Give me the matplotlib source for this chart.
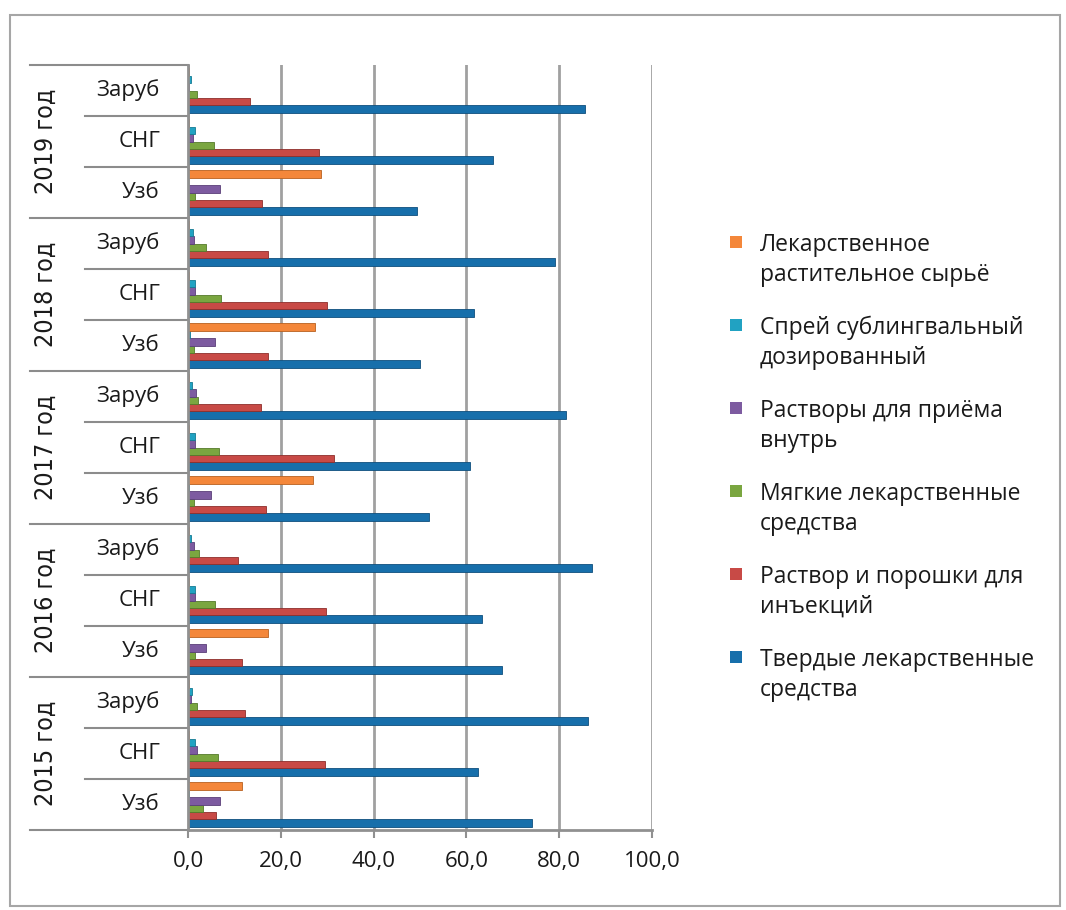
import numpy as np
import matplotlib.pyplot as plt
from matplotlib.patches import Rectangle
from matplotlib.lines import Line2D
import matplotlib.transforms as mtransforms

# categories, bottom to top
years = ['2015 год', '2016 год', '2017 год', '2018 год', '2019 год']
subs = ['Узб', 'СНГ', 'Заруб']

# series (same order as categories)
tverdye = [74.1, 62.5, 86.2, 67.7, 63.4, 87.1, 51.9, 60.8, 81.5, 50.1, 61.6, 79.0, 49.4, 65.7, 85.5]
rastvor_inj = [6.1, 29.6, 12.2, 11.7, 29.7, 10.8, 16.9, 31.5, 15.8, 17.2, 30.0, 17.2, 16.0, 28.3, 13.3]
myagkie = [3.2, 6.5, 2.0, 1.5, 5.9, 2.4, 1.4, 6.6, 2.2, 1.4, 7.2, 3.9, 1.5, 5.6, 2.0]
rastvory = [7.0, 2.0, 0.7, 3.9, 1.6, 1.2, 5.0, 1.6, 1.8, 5.9, 1.6, 1.4, 6.9, 1.0, 0.2]
sprey = [0.3, 1.6, 0.9, 0.3, 1.6, 0.7, 0.3, 1.6, 0.9, 0.35, 1.6, 1.1, 0.1, 1.6, 0.7]
lrs = [11.7, 0.3, 0.3, 17.2, 0.3, 0.3, 27.0, 0.3, 0.3, 27.4, 0.3, 0.3, 28.6, 0.3, 0.3]

series = [tverdye, rastvor_inj, myagkie, rastvory, sprey, lrs]
names = ['Твердые лекарственные\nсредства',
         'Раствор и порошки для\nинъекций',
         'Мягкие лекарственные\nсредства',
         'Растворы для приёма\nвнутрь',
         'Спрей сублингвальный\nдозированный',
         'Лекарственное\nрастительное сырьё']
colors = ['#176fab', '#c84a46', '#7aa640', '#7d5ba0', '#21a2c2', '#f4873a']
edges = ['#0e4f7d', '#8e2e2b', '#557a2a', '#5a3f78', '#157a93', '#b8601f']

plt.rcParams['font.family'] = ['Open Sans', 'DejaVu Sans']
txt = '#1a1a1a'
fs = 16

W, H = 1066, 910
fig = plt.figure(figsize=(W / 100, H / 100), dpi=100)
fig.patches.append(Rectangle((10 / W, 4 / H), 1050 / W, 891 / H, transform=fig.transFigure,
                             fill=False, edgecolor='#a6a6a6', lw=1.5))

ax = fig.add_axes([188 / W, 1 - 830 / H, (652 - 188) / W, (830 - 65) / H])

y = np.arange(len(tverdye))
h = 0.145
for i, s in enumerate(series):
    ax.barh(y + (i - 2.5) * h, s, height=h, color=colors[i], edgecolor=edges[i], lw=0.6)

ax.set_xlim(0, 100)
ax.set_ylim(-0.5, len(tverdye) - 0.5)
ax.set_xticks(np.arange(0, 101, 20))
ax.set_xticklabels([f'{v:.1f}'.replace('.', ',') for v in range(0, 101, 20)], fontsize=fs, color=txt)
ax.set_yticks([])
ax.tick_params(axis='x', length=6, color='#909090', width=1.5, pad=9)
for sp in ['top', 'right']:
    ax.spines[sp].set_visible(False)
for sp in ['left', 'bottom']:
    ax.spines[sp].set_color('#909090')
    ax.spines[sp].set_linewidth(2)
ax.set_axisbelow(True)
ax.grid(axis='x', color='#a0a0a0', lw=2)
ax.grid(axis='y', visible=False)

# multi-level category labels
tr = mtransforms.blended_transform_factory(fig.transFigure, ax.transData)
for k in range(len(tverdye)):
    ax.text(160 / W, y[k], subs[k % 3], transform=tr, ha='right', va='center', fontsize=fs, color=txt)
    if k % 3 != 0:
        ax.add_line(Line2D([85 / W, 188 / W], [k - 0.5, k - 0.5], transform=tr, color='#8c8c8c',
                           lw=1.5, clip_on=False))
for g, yr in enumerate(years):
    ax.text(46 / W, 3 * g + 1, yr, transform=tr, rotation=90, ha='center', va='center',
            fontsize=18, color=txt, family='DejaVu Sans', fontstretch='condensed')
for g in range(len(years) + 1):
    ax.add_line(Line2D([30 / W, 188 / W], [3 * g - 0.5, 3 * g - 0.5], transform=tr, color='#8c8c8c',
                       lw=1.5, clip_on=False))

# legend, top entry = last series
leg_y = [242, 325, 408, 491, 574, 657]
for j, i in enumerate(range(len(series) - 1, -1, -1)):
    yy = 1 - leg_y[j] / H
    fig.patches.append(Rectangle((730 / W, yy - 6 / H), 12 / W, 12 / H, transform=fig.transFigure,
                                 facecolor=colors[i], edgecolor='none'))
    for n, line in enumerate(names[i].split('\n')):
        fig.text(760 / W, yy - n * 30 / H, line, ha='left', va='center_baseline', fontsize=16.5,
                 color=txt)

fig.savefig('out.png', dpi=100)
